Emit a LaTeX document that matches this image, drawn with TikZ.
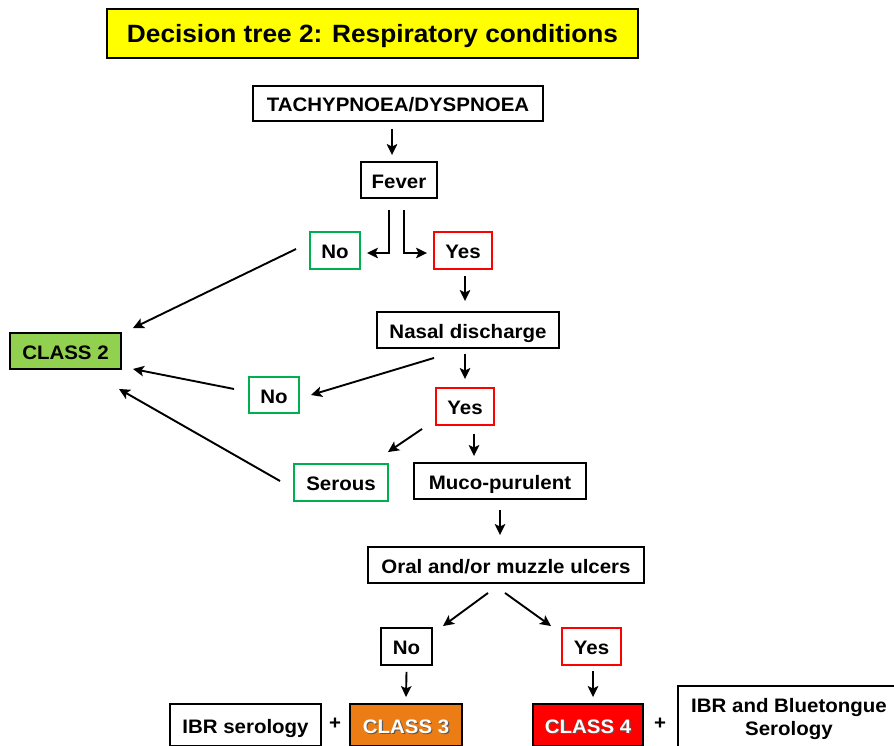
\documentclass[tikz,border=0pt]{standalone}
\usepackage{fontspec}
\setmainfont{Liberation Sans}[FakeStretch=1.05]
\usetikzlibrary{arrows.meta,calc}
\definecolor{gbox}{RGB}{0,176,80}
\definecolor{rbox}{RGB}{255,0,0}
\definecolor{ctwo}{RGB}{146,208,80}
\definecolor{cthree}{RGB}{236,124,20}
\definecolor{ttl}{RGB}{255,255,0}
\newcommand{\shtxt}[1]{\makebox[0pt][l]{\hspace{1.2pt}\raisebox{-1.2pt}{\color[gray]{0.35}#1}}\textcolor{white}{#1}}
\begin{document}
\begin{tikzpicture}[x=1pt,y=-1pt,
  basebox/.style={draw=black,line width=1.9pt,inner sep=0pt,
    font=\fontsize{19.5}{22}\selectfont\bfseries},
  box/.style={basebox,text height=16pt,text depth=0pt},
  gbx/.style={box,draw=gbox},
  rbx/.style={box,draw=rbox},
  plain/.style={inner sep=0pt,font=\fontsize{19.5}{22}\selectfont\bfseries},
  arr/.style={line width=1.9pt,-{Stealth[length=11pt,width=10.5pt,inset=2.5pt]}}
]
\clip (0,0) rectangle (894,745);
\fill[white] (0,0) rectangle (894,745);
% title
\node[box,fill=ttl,minimum width=531pt,minimum height=49pt,text height=18pt,text depth=0pt,
  font=\fontsize{25}{28}\selectfont\bfseries] (title) at (372.5,33.5) {Decision tree 2: Respiratory conditions};
% nodes
\node[box,minimum width=290pt,minimum height=35pt] (tachy) at (398,103.5) {TACHYPNOEA/DYSPNOEA};
\node[box,minimum width=76pt,minimum height=36pt] (fever) at (399,180) {Fever};
\node[gbx,minimum width=50pt,minimum height=37pt] (no1) at (335,250.5) {No};
\node[rbx,minimum width=58pt,minimum height=37pt] (yes1) at (463,250.5) {Yes};
\node[box,minimum width=182pt,minimum height=36pt] (nasal) at (468,330) {Nasal discharge};
\node[box,fill=ctwo,minimum width=111pt,minimum height=36pt] (class2) at (65.5,351) {CLASS 2};
\node[gbx,minimum width=50pt,minimum height=36pt] (no2) at (274,395) {No};
\node[rbx,minimum width=58pt,minimum height=37pt] (yes2) at (465,406.5) {Yes};
\node[gbx,minimum width=94pt,minimum height=37pt] (serous) at (341,482.5) {Serous};
\node[box,minimum width=172pt,minimum height=36pt] (muco) at (500,481) {Muco-purulent};
\node[box,minimum width=276pt,minimum height=36pt] (oral) at (506,565) {Oral and/or muzzle ulcers};
\node[box,minimum width=51pt,minimum height=37pt] (no3) at (406.5,646.5) {No};
\node[rbx,minimum width=59pt,minimum height=37pt] (yes3) at (591.5,646.5) {Yes};
\node[box,minimum width=151pt,minimum height=42pt] (ibr) at (245.5,725) {IBR serology};
\node[plain] (plusa) at (335,724) {+};
\node[box,fill=cthree,minimum width=112pt,minimum height=42pt] (class3) at (406,725) {\shtxt{CLASS 3}};
\node[box,fill=rbox,minimum width=110pt,minimum height=42pt] (class4) at (588,725) {\shtxt{CLASS 4}};
\node[plain] (plusb) at (660,724) {+};
\node[basebox,minimum width=222pt,minimum height=66pt,align=center,
  font=\fontsize{19.5}{23}\selectfont\bfseries] (blue) at (789,719) {IBR and Bluetongue\\Serology};
% arrows
\draw[arr] ($(tachy.south)+(-6,7)$) -- ($(fever.north)+(-7,-6)$);
\draw[arr] ($(fever.south)+(-10,11)$) |- ($(no1.east)+(6,2.5)$);
\draw[arr] ($(fever.south)+(5,11)$) |- ($(yes1.west)+(-6,2.5)$);
\draw[arr] ($(no1.west)+(-13,-1.5)$) -- ($(class2.north east)+(11,-4)$);
\draw[arr] ($(yes1.south)+(2,6)$) -- ($(nasal.north)+(-3,-10)$);
\draw[arr] ($(nasal.south)+(-34,9)$) -- ($(no2.east)+(11,0)$);
\draw[arr] ($(nasal.south)+(-3,5)$) -- ($(yes2.north)+(0,-8)$);
\draw[arr] ($(no2.west)+(-14,-6)$) -- ($(class2.south east)+(11,-1)$);
\draw[arr] ($(yes2.south west)+(-13,3)$) -- ($(serous.north east)+(-1,-11)$);
\draw[arr] ($(yes2.south)+(9,8)$) -- ($(muco.north)+(-26,-6)$);
\draw[arr] ($(serous.west)+(-13,-1.5)$) -- ($(class2.south east)+(-3,19)$);
\draw[arr] ($(muco.south)+(0,10)$) -- ($(oral.north)+(-6,-11)$);
\draw[arr] ($(oral.south)+(-18,9)$) -- ($(no3.north east)+(10,-1)$);
\draw[arr] ($(oral.south)+(-1,9)$) -- ($(yes3.north west)+(-10,-1)$);
\draw[arr] ($(no3.south)+(0,6)$) -- ($(class3.north)+(0,-6)$);
\draw[arr] ($(yes3.south)+(1.5,5)$) -- ($(class4.north)+(5,-6)$);
\end{tikzpicture}
\end{document}
